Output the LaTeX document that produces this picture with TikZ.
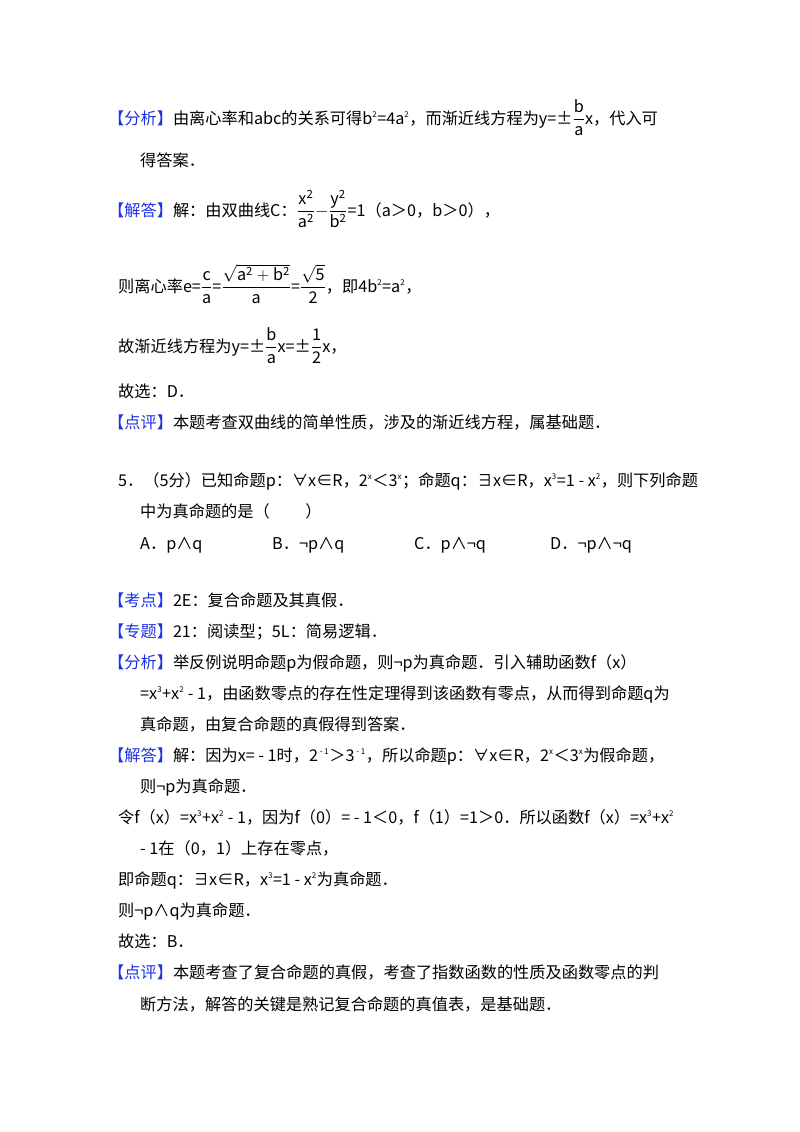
\documentclass[tikz,border=0pt]{standalone}
\usepackage{fontspec}
\setmainfont{Noto Sans CJK SC}
\definecolor{kb}{RGB}{30,50,230}
\newcommand{\tg}[1]{{\color{kb}【#1】}}
\newcommand{\sps}[1]{\textsuperscript{\footnotesize #1}}
\newcommand{\fr}[2]{$\displaystyle\frac{\mathrm{#1}}{\mathrm{#2}}$}
\tikzset{ln/.style={anchor=base west,inner sep=0pt,font=\fontsize{16.2}{19}\selectfont}}
\begin{document}
\begin{tikzpicture}[x=1pt,y=-1pt]
\useasboundingbox[fill=white] (0,0) rectangle (800,1132);
\node[ln] (l1) at (108,124) {\tg{分析}由离心率和abc的关系可得b\sps{2}=4a\sps{2}，而渐近线方程为y=±\fr{b}{a}x，代入可};
\node[ln] (l2) at (140,166) {得答案．};
\node[ln] (l3) at (108,216) {\tg{解答}解：由双曲线C：\fr{x^2}{a^2}$-$\fr{y^2}{b^2}=1（a＞0，b＞0），};
\node[ln] (l4) at (118,292) {则离心率e=\fr{c}{a}=\fr{\sqrt{a^2+b^2}}{a}=\fr{\sqrt5}{2}，即4b\sps{2}=a\sps{2}，};
\node[ln] (l5) at (118,352) {故渐近线方程为y=±\fr{b}{a}x=±\fr{1}{2}x，};
\node[ln] (l6) at (118,397) {故选：D．};
\node[ln] (l7) at (108,428) {\tg{点评}本题考查双曲线的简单性质，涉及的渐近线方程，属基础题．};
\node[ln] (q1) at (118,486) {5．（5分）已知命题p：∀x∈R，2\sps{x}＜3\sps{x}；命题q：∃x∈R，x\sps{3}=1 - x\sps{2}，则下列命题};
\node[ln] (q2) at (140,517) {中为真命题的是（\hspace{2.2em}）};
\node[ln] (qa) at (140,549) {A．p∧q};
\node[ln] (qb) at (272,549) {B．¬p∧q};
\node[ln] (qc) at (414,549) {C．p∧¬q};
\node[ln] (qd) at (550,549) {D．¬p∧¬q};
\node[ln] (k1) at (108,606) {\tg{考点}2E：复合命题及其真假．};
\node[ln] (k2) at (108,637) {\tg{专题}21：阅读型；5L：简易逻辑．};
\node[ln] (k3) at (108,668) {\tg{分析}举反例说明命题p为假命题，则¬p为真命题．引入辅助函数f（x）};
\node[ln] (k4) at (140,699) {=x\sps{3}+x\sps{2} - 1，由函数零点的存在性定理得到该函数有零点，从而得到命题q为};
\node[ln] (k5) at (140,730) {真命题，由复合命题的真假得到答案．};
\node[ln] (k6) at (108,761) {\tg{解答}解：因为x= - 1时，2\sps{ - 1}＞3\sps{ - 1}，所以命题p：∀x∈R，2\sps{x}＜3\sps{x}为假命题，};
\node[ln] (k7) at (140,792) {则¬p为真命题．};
\node[ln] (k8) at (118,823) {令f（x）=x\sps{3}+x\sps{2} - 1，因为f（0）= - 1＜0，f（1）=1＞0．所以函数f（x）=x\sps{3}+x\sps{2}};
\node[ln] (k9) at (140,854) {- 1在（0，1）上存在零点，};
\node[ln] (k10) at (118,885) {即命题q：∃x∈R，x\sps{3}=1 - x\sps{2}为真命题．};
\node[ln] (k11) at (118,916) {则¬p∧q为真命题．};
\node[ln] (k12) at (118,947) {故选：B．};
\node[ln] (k13) at (108,978) {\tg{点评}本题考查了复合命题的真假，考查了指数函数的性质及函数零点的判};
\node[ln] (k14) at (140,1010) {断方法，解答的关键是熟记复合命题的真值表，是基础题．};
\end{tikzpicture}
\end{document}
